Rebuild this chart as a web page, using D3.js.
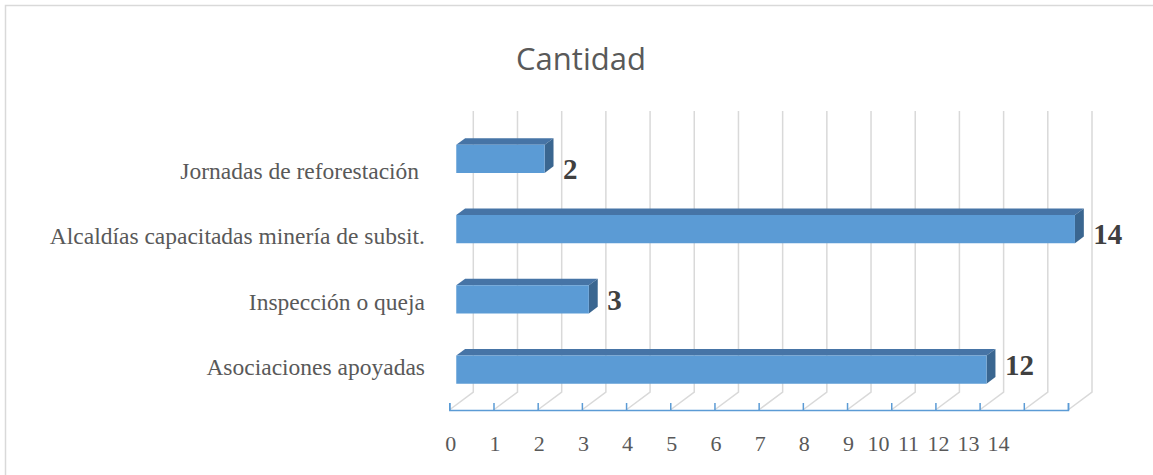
<!DOCTYPE html>
<html>
<head>
<meta charset="utf-8">
<script src="https://cdn.jsdelivr.net/npm/d3@7"></script>
<style>
  body { margin: 0; background: #fff; }
  svg { display: block; }
  .cat-label { font-family: "Liberation Serif", "Times New Roman", serif; font-size: 23.5px; fill: #595959; white-space: pre; }
  .tick-label { font-family: "Liberation Serif", "Times New Roman", serif; font-size: 22px; fill: #595959; }
  .value-label { font-family: "Liberation Serif", "Times New Roman", serif; font-size: 29px; font-weight: bold; fill: #404040; }
  .title { font-family: "Open Sans", sans-serif; font-size: 31px; fill: #595959; }
</style>
</head>
<body>
<svg id="chart" width="1153" height="475"></svg>
<script>
// data, top to bottom as in the chart
let categories = ["Jornadas de reforestación ", "Alcaldías capacitadas minería de subsit.", "Inspección o queja", "Asociaciones apoyadas"];
let values = [2, 14, 3, 12];
let tickValues = [0, 1, 2, 3, 4, 5, 6, 7, 8, 9, 10, 11, 12, 13, 14];
let chartTitle = "Cantidad";

// 3d depth of the plot box (screen offset of the back wall)
let depthDx = 24;
let depthDy = -18;
let barT0 = 0.29;   // bar front, fraction of depth
let barT1 = 0.66;   // bar back
let labelPitch = 30; // squeezed tick labels after 9

let svg = d3.select("#chart");

let x = d3.scaleLinear().domain([0, 14]).range([449.3, 1068]);
let y = d3.scaleBand().domain(categories).range([129, 410])
  .paddingInner(0.6).paddingOuter(0.3);
// labels sit on their own (flatter) plane
let labelY = d3.scalePoint().domain(categories).range([172, 368]);

function proj(px, py, t) {
  return [px + depthDx * t, py + depthDy * t];
}

// chart border
svg.append("rect")
  .attr("x", 5.5).attr("y", 5.5)
  .attr("width", 1160).attr("height", 480)
  .attr("fill", "none")
  .attr("stroke", "#d9d9d9")
  .attr("stroke-width", 1.5);

svg.append("text")
  .attr("class", "title")
  .attr("x", 581)
  .attr("y", 69.5)
  .attr("text-anchor", "middle")
  .text(chartTitle);

// gridlines: floor diagonal + back wall vertical
let floorY = y.range()[1];
let topY = y.range()[0];
svg.append("g").selectAll(".grid")
  .data(tickValues)
  .enter()
  .append("path")
  .attr("class", "grid")
  .attr("fill", "none")
  .attr("stroke", "#d9d9d9")
  .attr("stroke-width", 1.5)
  .attr("d", v => {
    let a = proj(x(v), floorY, 0);
    let b = proj(x(v), floorY, 1);
    let c = proj(x(v), topY, 1);
    return `M${a}L${b}L${c}`;
  });

// bars
let rows = categories.map((c, i) => ({cat: c, value: values[i]}));
let bars = svg.append("g").selectAll(".bar")
  .data(rows)
  .enter()
  .append("g")
  .attr("class", "bar");

let line = d3.line();

bars.append("path")
  .attr("fill", "#4674a6")
  .attr("d", d => {
    let y0 = y(d.cat);
    return line([proj(x(0), y0, barT0), proj(x(d.value), y0, barT0),
      proj(x(d.value), y0, barT1), proj(x(0), y0, barT1)]) + "Z";
  });

bars.append("path")
  .attr("fill", "#3a6690")
  .attr("d", d => {
    let y0 = y(d.cat), y1 = y0 + y.bandwidth();
    return line([proj(x(d.value), y0, barT0), proj(x(d.value), y0, barT1),
      proj(x(d.value), y1, barT1), proj(x(d.value), y1, barT0)]) + "Z";
  });

bars.append("path")
  .attr("fill", "#5b9bd5")
  .attr("d", d => {
    let y0 = y(d.cat), y1 = y0 + y.bandwidth();
    return line([proj(x(0), y0, barT0), proj(x(d.value), y0, barT0),
      proj(x(d.value), y1, barT0), proj(x(0), y1, barT0)]) + "Z";
  });

// value labels
svg.append("g").selectAll(".value-label")
  .data(rows)
  .enter()
  .append("text")
  .attr("class", "value-label")
  .attr("x", d => proj(x(d.value), 0, barT1)[0] + 9.5)
  .attr("y", d => labelY(d.cat) - 3)
  .attr("dy", "0.34em")
  .text(d => d.value);

// category labels
svg.append("g").selectAll(".cat-label")
  .data(categories)
  .enter()
  .append("text")
  .attr("class", "cat-label")
  .attr("x", 425)
  .attr("y", d => labelY(d))
  .attr("dy", "0.3em")
  .attr("text-anchor", "end")
  .text(d => d);

// value axis on the floor front edge
let axis = svg.append("g")
  .attr("transform", `translate(0,${floorY})`)
  .call(d3.axisBottom(x).tickValues(tickValues).tickSize(-7).tickFormat(""));
axis.select(".domain").attr("stroke", "#5b9bd5").attr("stroke-width", 1.5);
axis.selectAll(".tick line").attr("stroke", "#5b9bd5").attr("stroke-width", 1.5);

// tick labels, the two-digit ones run together after 9
svg.append("g").selectAll(".tick-label")
  .data(tickValues)
  .enter()
  .append("text")
  .attr("class", "tick-label")
  .attr("x", v => v <= 9 ? x(v) + 1.5 : x(9) + 1.5 + (v - 9) * labelPitch)
  .attr("y", 451)
  .attr("text-anchor", "middle")
  .text(v => v);
</script>
</body>
</html>
